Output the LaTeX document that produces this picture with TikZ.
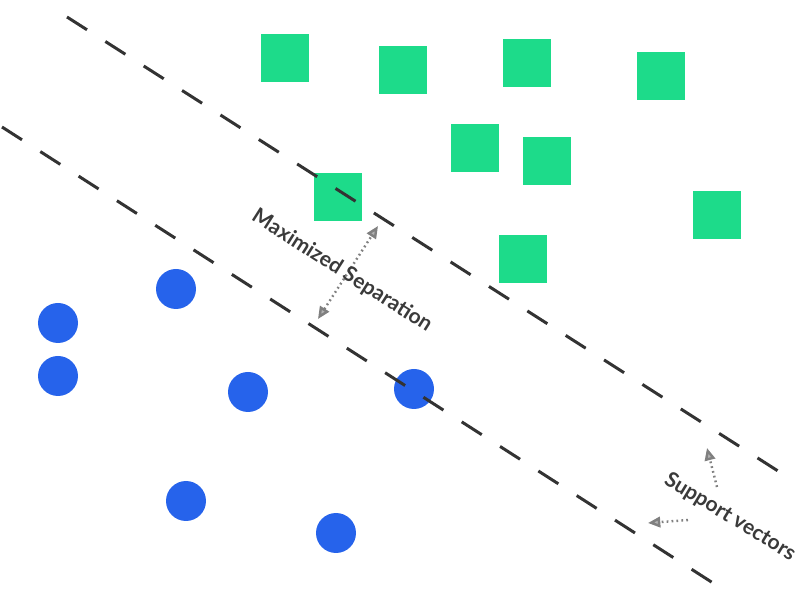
\documentclass[tikz,border=0pt]{standalone}
\usepackage{fontspec}
\setmainfont{Lato}
\usetikzlibrary{arrows.meta,positioning}

\definecolor{svmgreen}{RGB}{29,219,138}
\definecolor{svmblue}{RGB}{38,99,235}
\definecolor{svmtext}{RGB}{58,58,58}

\begin{document}
\begin{tikzpicture}[x=0.2mm, y=-0.2mm, >={Triangle[length=7pt, width=6pt, fill=gray!60]},
	greenclass/.style={fill=svmgreen, minimum size=9.6mm, inner sep=0pt},
	blueclass/.style={circle, fill=svmblue, minimum size=8mm, inner sep=0pt},
	margin/.style={draw=black!80, line width=1.7pt, dash pattern=on 13.5pt off 12.4pt},
	hint/.style={draw=gray, line width=1.4pt, dash pattern=on 1pt off 1.8pt},
	caption/.style={text=svmtext, font=\bfseries\fontsize{12}{14}\selectfont, rotate=-32.5}]
	\useasboundingbox (0,0) rectangle (800,600);

	% Squares {s1, s2, s3, etc}
	\node [greenclass] (s1) at (285,58)  {};
	\node [greenclass] (s2) at (403,70)  {};
	\node [greenclass] (s3) at (527,63)  {};
	\node [greenclass] (s4) at (661,76)  {};
	\node [greenclass] (s5) at (475,148) {};
	\node [greenclass] (s6) at (547,161) {};
	\node [greenclass] (s7) at (338,197) {};
	\node [greenclass] (s8) at (717,215) {};
	\node [greenclass] (s9) at (523,259) {};

	% Circles {c1, c2, c3, etc}
	\node [blueclass] (c1) at (176,289) {};
	\node [blueclass] (c2) at (58,323)  {};
	\node [blueclass] (c3) at (58,376)  {};
	\node [blueclass] (c4) at (248,392) {};
	\node [blueclass] (c5) at (414,389) {};
	\node [blueclass] (c6) at (186,501) {};
	\node [blueclass] (c7) at (336,533) {};

	% Margin lines
	\coordinate (up1) at (67,17);
	\coordinate (up2) at (778,471);
	\coordinate (lo1) at (2,127);
	\coordinate (lo2) at (713,583);
	\path [margin] (up1) -- (up2);
	\path [margin] (lo1) -- (lo2);

	% Separation arrow
	\coordinate (sepa) at (318,319);
	\coordinate (sepb) at (378,226);
	\path [hint, <->] (sepa) -- (sepb);
	\node [caption] (sep) at (342,271) {Maximized Separation};

	% Support vector arrows
	\coordinate (sva) at (717,487);
	\coordinate (svb) at (707,448);
	\coordinate (svc) at (688,520);
	\coordinate (svd) at (648,523);
	\path [hint, ->] (sva) -- (svb);
	\path [hint, ->] (svc) -- (svd);
	\node [caption, rotate=1] (sv) at (730,517) {Support vectors};

\end{tikzpicture}
\end{document}
